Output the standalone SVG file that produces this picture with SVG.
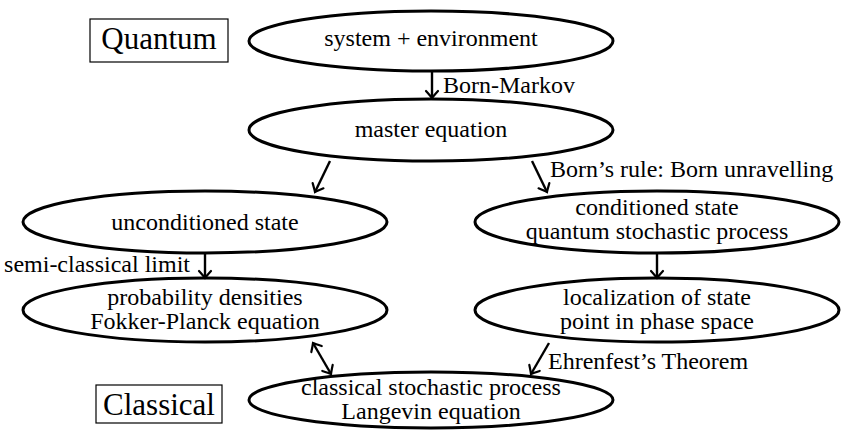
<svg xmlns="http://www.w3.org/2000/svg" width="841" height="430" viewBox="0 0 841 430">
<style>
.node ellipse{fill:#fff;stroke:#000;stroke-width:3}
text{font-family:'Liberation Serif','DejaVu Serif',serif;fill:#000}
.t{font-size:24px}
.c{text-anchor:middle}
.big{font-size:31px;text-anchor:middle}
.box{fill:#fff;stroke:#000;stroke-width:1.2}
#connectors line{stroke:#000;stroke-width:2.4;fill:none}
</style>
<defs>
<marker id="ah" viewBox="-10 -8 12 16" markerWidth="12" markerHeight="16" refX="0" refY="0" orient="auto-start-reverse" markerUnits="userSpaceOnUse">
<path d="M-7,-6 Q-2,-1.5 0,0 Q-2,1.5 -7,6" fill="none" stroke="#000" stroke-width="2.2" stroke-linecap="round"/>
</marker>
</defs>
<rect width="841" height="430" fill="#fff"/>
<g id="quantum"><rect class="box" x="90" y="19" width="138" height="43"/><text class="big" x="159" y="49">Quantum</text></g>
<g id="classical"><rect class="box" x="96" y="385" width="126" height="38"/><text class="big" x="159" y="415">Classical</text></g>
<g id="n1" class="node"><ellipse cx="431" cy="41" rx="182" ry="30"/><text class="t c" x="431" y="46">system + environment</text></g>
<g id="n2" class="node"><ellipse cx="431" cy="130" rx="182" ry="31"/><text class="t c" x="431" y="137">master equation</text></g>
<g id="n3" class="node"><ellipse cx="205" cy="222" rx="182" ry="31"/><text class="t c" x="205" y="230">unconditioned state</text></g>
<g id="n4" class="node"><ellipse cx="657" cy="222" rx="182" ry="31"/><text class="t c" x="657" y="215">conditioned state</text><text class="t c" x="657" y="239">quantum stochastic process</text></g>
<g id="n5" class="node"><ellipse cx="205" cy="310" rx="182" ry="32"/><text class="t c" x="205" y="305">probability densities</text><text class="t c" x="205" y="329">Fokker-Planck equation</text></g>
<g id="n6" class="node"><ellipse cx="657" cy="310" rx="182" ry="32"/><text class="t c" x="657" y="305">localization of state</text><text class="t c" x="657" y="329">point in phase space</text></g>
<g id="n7" class="node"><ellipse cx="431" cy="400" rx="182" ry="28"/><text class="t c" x="431" y="395">classical stochastic process</text><text class="t c" x="431" y="419">Langevin equation</text></g>
<g id="connectors">
<line x1="432" y1="72" x2="432" y2="98" marker-end="url(#ah)"/>
<line x1="330" y1="161" x2="315" y2="192" marker-end="url(#ah)"/>
<line x1="532" y1="161" x2="547" y2="192" marker-end="url(#ah)"/>
<line x1="205" y1="254" x2="205" y2="278" marker-end="url(#ah)"/>
<line x1="657" y1="254" x2="657" y2="278" marker-end="url(#ah)"/>
<line x1="313" y1="343" x2="331" y2="374" marker-start="url(#ah)" marker-end="url(#ah)"/>
<line x1="549" y1="343" x2="531" y2="374" marker-end="url(#ah)"/>
<text class="t" x="443" y="93">Born-Markov</text>
<text class="t" x="550" y="177">Born’s rule: Born unravelling</text>
<text class="t" x="190" y="272" text-anchor="end">semi-classical limit</text>
<text class="t" x="548" y="369">Ehrenfest’s Theorem</text>
</g>
</svg>
